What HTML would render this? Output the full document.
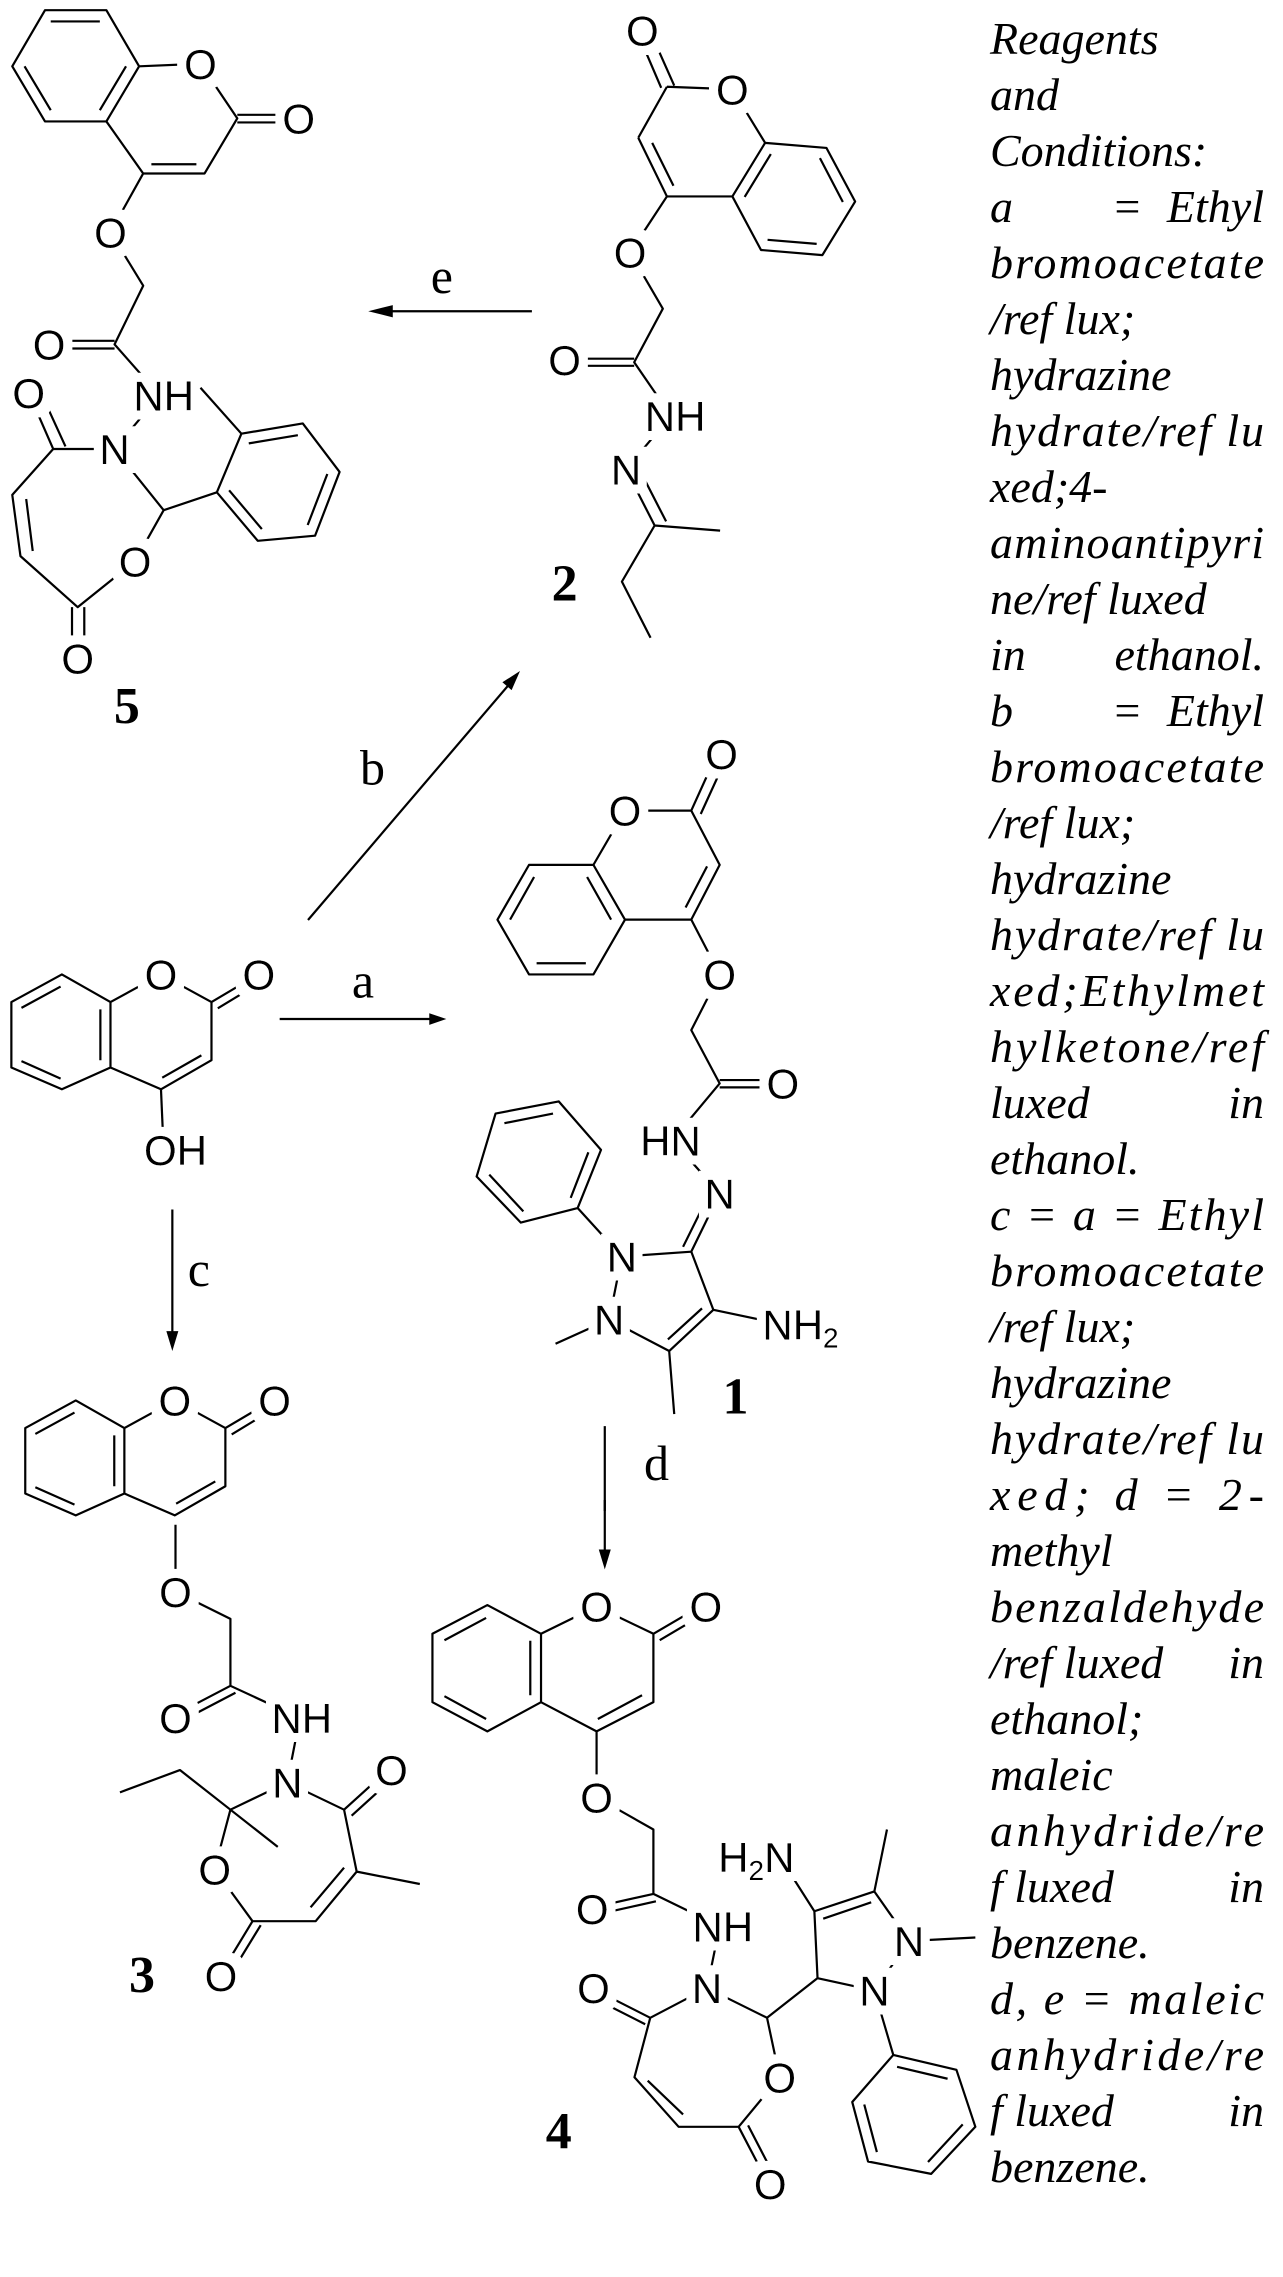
<!DOCTYPE html>
<html><head><meta charset="utf-8"><style>
html,body{margin:0;padding:0;background:#fff}
svg{display:block}
path{fill:none;stroke:#000;stroke-width:2.2;vector-effect:non-scaling-stroke;stroke-linejoin:round}
polygon{fill:#000;stroke:none}
.a{font-family:"Liberation Sans",sans-serif;font-size:42px;text-anchor:middle;fill:#000;filter:url(#halo)}
.n{font-family:"Liberation Serif",serif;font-weight:bold;font-size:52px;text-anchor:middle;fill:#000}
.l{font-family:"Liberation Serif",serif;font-size:50px;text-anchor:middle;fill:#000}
.r{font-family:"Liberation Serif",serif;font-style:italic;font-size:46px;fill:#000}
.e{text-anchor:end}
.m{text-anchor:middle}
</style></head><body>
<svg width="1283" height="2277" viewBox="0 0 1283 2277" xmlns="http://www.w3.org/2000/svg">
<defs>
<filter id="halo" x="-60%" y="-60%" width="220%" height="220%">
<feMorphology in="SourceAlpha" operator="dilate" radius="9" result="d"/>
<feFlood flood-color="#fff" result="w"/>
<feComposite in="w" in2="d" operator="in" result="bg"/>
<feMerge><feMergeNode in="bg"/><feMergeNode in="SourceGraphic"/></feMerge>
</filter>
<g id="cou">
<path d="M98,463 L175,520 L175,655 L98,700 L18,655 L18,520 Z M159,535 L159,640 M96,678 L34,642 M34,532 L96,488 M175,520 L255,463 L335,520 L335,640 L255,700 L175,655 M335,520 L405,466 M345,533 L412,480 M319,630 L257,676"/>
</g>
</defs>

<g transform="scale(0.8183,0.5102)">
<path d="M55,20 L130,20 L170,130 L130,238 L55,238 L15,130 Z M62,42 L122,42 M154,130 L122,216 M62,216 L30,130
M170,130 L245,125 L290,232 L250,340 L175,340 L130,238 M290,225 L365,225 M290,240 L365,240 M240,322 L185,322
M175,340 L135,455 L175,560 L140,675 L195,775 M140,668 L60,668 M140,683 L60,683
M195,775 L140,880 L65,880 M65,880 L35,770 M80,875 L50,770
M65,880 L15,970 L25,1090 L95,1190 L165,1100 L200,1000 L140,880 M32,978 L40,1080
M88,1190 L88,1290 M103,1190 L103,1290 M200,1000 L265,965
M265,965 L295,850 L370,830 L415,925 L385,1050 L315,1060 Z M304,869 L364,853 M400,929 L376,1029 M320,1037 L280,961 M295,850 L245,760"/>
<path d="M780,270 L815,170 M808,172 L778,60 M824,168 L794,60 M815,170 L895,175 L935,280
M935,280 L1010,290 L1045,395 L1005,500 L930,490 L895,385 Z M1002,310 L1030,396 M998,478 L938,470 M910,386 L942,302
M780,270 L815,385 L895,385 M797,280 L823,364
M815,385 L770,495 L810,605 L775,710 L820,815 M775,703 L690,703 M775,717 L690,717
M820,815 L765,920 L800,1030 L880,1040 M800,1030 L760,1140 L795,1250 M782,922 L814,1022
M650,610 L470,610"/>
<polygon points="450,610 480,598 480,622"/>
<text class="a" dy=".36em" transform="translate(245 125) scale(1.222 1.96)">O</text>
<text class="a" dy=".36em" transform="translate(365 232) scale(1.222 1.96)">O</text>
<text class="a" dy=".36em" transform="translate(135 455) scale(1.222 1.96)">O</text>
<text class="a" dy=".36em" transform="translate(60 675) scale(1.222 1.96)">O</text>
<text class="a" dy=".36em" transform="translate(200 775) scale(1.222 1.96)">NH</text>
<text class="a" dy=".36em" transform="translate(140 880) scale(1.222 1.96)">N</text>
<text class="a" dy=".36em" transform="translate(35 770) scale(1.222 1.96)">O</text>
<text class="a" dy=".36em" transform="translate(165 1100) scale(1.222 1.96)">O</text>
<text class="a" dy=".36em" transform="translate(95 1290) scale(1.222 1.96)">O</text>
<text class="n" dy=".36em" transform="translate(155 1380) scale(1.222 1.96)">5</text>
<text class="a" dy=".36em" transform="translate(785 60) scale(1.222 1.96)">O</text>
<text class="a" dy=".36em" transform="translate(895 175) scale(1.222 1.96)">O</text>
<text class="a" dy=".36em" transform="translate(770 495) scale(1.222 1.96)">O</text>
<text class="a" dy=".36em" transform="translate(690 705) scale(1.222 1.96)">O</text>
<text class="a" dy=".36em" transform="translate(825 815) scale(1.222 1.96)">NH</text>
<text class="a" dy=".36em" transform="translate(765 920) scale(1.222 1.96)">N</text>
<text class="n" dy=".36em" transform="translate(690 1140) scale(1.222 1.96)">2</text>
<text class="l" dy=".3em" transform="translate(540 545) scale(1.222 1.96)">e</text>
</g>

<path d="M308,920 L512,681"/>
<polygon points="520,671 511.6,690.1 502.4,682.3"/>

<g transform="translate(0,750) scale(0.6313,0.4847)">
<use href="#cou"/>
<path d="M255,700 L258,790"/>
<use href="#cou" transform="translate(22,879)"/>
<path d="M443,555 L685,555 M273,948 L273,1205 M958,1395 L958,1570"/>
<polygon points="707,555 680,543 680,567"/>
<polygon points="273,1240 263.5,1199 282.5,1199"/>
<path d="M940,237 L990,350 L940,463 L838,463 L788,350 L838,237 Z M930,262 L968,350 M928,440 L850,440 M808,350 L846,262
M940,237 L990,125 L1095,125 L1140,237 L1095,350 L990,350 M1095,125 L1135,10 M1110,132 L1150,18 M1120,240 L1086,325
M1095,350 L1140,463 L1095,578 L1140,688 L1065,805 L1140,915 L1095,1035 M1140,681 L1240,681 M1140,696 L1240,696 M1125,912 L1082,1025
M985,1045 L1095,1035 L1130,1155 L1060,1240 L965,1175 Z M1112,1152 L1058,1216
M1130,1155 L1240,1185 M965,1175 L880,1225 M1060,1240 L1068,1370 M985,1045 L915,945
M915,945 L825,975 L755,880 L785,750 L885,725 L952,825 Z M829,952 L775,876 M799,770 L876,750 M932,830 L904,924"/>
<text class="a" dy=".36em" transform="translate(255 463) scale(1.584 2.063)">O</text>
<text class="a" dy=".36em" transform="translate(410 463) scale(1.584 2.063)">O</text>
<text class="a" dy=".36em" transform="translate(278 825) scale(1.584 2.063)">OH</text>
<text class="a" dy=".36em" transform="translate(277 1342) scale(1.584 2.063)">O</text>
<text class="a" dy=".36em" transform="translate(435 1342) scale(1.584 2.063)">O</text>
<text class="a" dy=".36em" transform="translate(990 125) scale(1.584 2.063)">O</text>
<text class="a" dy=".36em" transform="translate(1143 8) scale(1.584 2.063)">O</text>
<text class="a" dy=".36em" transform="translate(1140 463) scale(1.584 2.063)">O</text>
<text class="a" dy=".36em" transform="translate(1240 688) scale(1.584 2.063)">O</text>
<text class="a" dy=".36em" transform="translate(1062 805) scale(1.584 2.063)">HN</text>
<text class="a" dy=".36em" transform="translate(1140 915) scale(1.584 2.063)">N</text>
<text class="a" dy=".36em" transform="translate(985 1045) scale(1.584 2.063)">N</text>
<text class="a" dy=".36em" transform="translate(965 1175) scale(1.584 2.063)">N</text>
<text class="a" dy=".36em" transform="translate(1268 1185) scale(1.584 2.063)">NH<tspan font-size="28" dy="8">2</tspan></text>
<text class="n" dy=".36em" transform="translate(1165 1330) scale(1.584 2.063)">1</text>
<text class="l" dy=".3em" transform="translate(575 480) scale(1.584 2.063)">a</text>
<text class="l" dy=".3em" transform="translate(590 40) scale(1.584 2.063)">b</text>
<text class="l" dy=".3em" transform="translate(315 1075) scale(1.584 2.063)">c</text>
<text class="l" dy=".3em" transform="translate(1040 1475) scale(1.584 2.063)">d</text>
</g>

<g transform="translate(0,1500) scale(0.6313,0.4955)">
<path d="M958,0 L958,105"/>
<polygon points="958,140 948.5,100 967.5,100"/>
<path d="M278,50 L278,185 L365,240 L365,375 L475,440 M365,375 L290,425 M373,389 L298,439
M475,440 L455,570 L365,625 L285,545 L190,590 M365,625 L440,700 M365,625 L340,745 L400,850 L500,850 L565,750 L545,625 L455,570
M400,850 L350,955 M413,858 L364,960 M492,822 L545,742 M565,750 L665,775 M545,625 L610,550 M557,637 L622,562"/>
<path d="M772,212 L857,270 L857,408 L772,467 L685,408 L685,270 Z M770,238 L704,283 M840,284 L840,394 M770,442 L704,396
M857,270 L945,215 L1035,270 L1035,408 L945,467 L857,408 M1035,270 L1110,214 M1045,283 L1118,228 M1017,394 L947,442
M945,467 L945,600 L1035,665 L1035,795 L1140,860 L1120,985 L1030,1045 L1005,1165 L1075,1265 L1170,1265 L1235,1165 L1215,1045 L1120,985
M1035,795 L940,822 M1039,810 L944,837 M1030,1045 L945,990 M1022,1058 L937,1003 M1026,1172 L1082,1240
M1170,1265 L1215,1375 M1185,1262 L1228,1368
M1215,1045 L1295,965 L1290,830 L1385,790 L1440,890 L1385,990 L1295,965 M1304,845 L1380,812
M1290,830 L1250,750 M1385,790 L1405,665 M1440,890 L1545,883 M1385,990 L1415,1120
M1415,1120 L1515,1150 L1545,1265 L1475,1360 L1375,1335 L1350,1215 Z M1421,1144 L1501,1168 M1525,1260 L1470,1336 M1389,1316 L1369,1220"/>
<text class="a" dy=".36em" transform="translate(278 185) scale(1.584 2.018)">O</text>
<text class="a" dy=".36em" transform="translate(278 440) scale(1.584 2.018)">O</text>
<text class="a" dy=".36em" transform="translate(478 440) scale(1.584 2.018)">NH</text>
<text class="a" dy=".36em" transform="translate(455 570) scale(1.584 2.018)">N</text>
<text class="a" dy=".36em" transform="translate(340 745) scale(1.584 2.018)">O</text>
<text class="a" dy=".36em" transform="translate(350 960) scale(1.584 2.018)">O</text>
<text class="a" dy=".36em" transform="translate(620 545) scale(1.584 2.018)">O</text>
<text class="n" dy=".36em" transform="translate(225 955) scale(1.584 2.018)">3</text>
<text class="a" dy=".36em" transform="translate(945 215) scale(1.584 2.018)">O</text>
<text class="a" dy=".36em" transform="translate(1118 215) scale(1.584 2.018)">O</text>
<text class="a" dy=".36em" transform="translate(945 600) scale(1.584 2.018)">O</text>
<text class="a" dy=".36em" transform="translate(938 825) scale(1.584 2.018)">O</text>
<text class="a" dy=".36em" transform="translate(1145 860) scale(1.584 2.018)">NH</text>
<text class="a" dy=".36em" transform="translate(1120 985) scale(1.584 2.018)">N</text>
<text class="a" dy=".36em" transform="translate(940 985) scale(1.584 2.018)">O</text>
<text class="a" dy=".36em" transform="translate(1235 1165) scale(1.584 2.018)">O</text>
<text class="a" dy=".36em" transform="translate(1220 1380) scale(1.584 2.018)">O</text>
<text class="a" dy=".36em" transform="translate(1198 720) scale(1.584 2.018)">H<tspan font-size="28" dy="8">2</tspan><tspan dy="-8">N</tspan></text>
<text class="a" dy=".36em" transform="translate(1440 890) scale(1.584 2.018)">N</text>
<text class="a" dy=".36em" transform="translate(1385 990) scale(1.584 2.018)">N</text>
<text class="n" dy=".36em" transform="translate(885 1270) scale(1.584 2.018)">4</text>
</g>

<g class="r">
<text x="990" y="54">Reagents</text>
<text x="990" y="110">and</text>
<text x="990" y="166">Conditions:</text>
<text x="990" y="222">a</text><text x="1127" y="222" class="m">=</text><text x="1264" y="222" class="e">Ethyl</text>
<text x="990" y="278" textLength="274" lengthAdjust="spacing">bromoacetate</text>
<text x="990" y="334">/ref lux;</text>
<text x="990" y="390">hydrazine</text>
<text x="990" y="446" textLength="274" lengthAdjust="spacing">hydrate/ref lu</text>
<text x="990" y="502">xed;4-</text>
<text x="990" y="558" textLength="274" lengthAdjust="spacing">aminoantipyri</text>
<text x="990" y="614">ne/ref luxed</text>
<text x="990" y="670">in</text><text x="1264" y="670" class="e">ethanol.</text>
<text x="990" y="726">b</text><text x="1127" y="726" class="m">=</text><text x="1264" y="726" class="e">Ethyl</text>
<text x="990" y="782" textLength="274" lengthAdjust="spacing">bromoacetate</text>
<text x="990" y="838">/ref lux;</text>
<text x="990" y="894">hydrazine</text>
<text x="990" y="950" textLength="274" lengthAdjust="spacing">hydrate/ref lu</text>
<text x="990" y="1006" textLength="274" lengthAdjust="spacing">xed;Ethylmet</text>
<text x="990" y="1062" textLength="274" lengthAdjust="spacing">hylketone/ref</text>
<text x="990" y="1118">luxed</text><text x="1264" y="1118" class="e">in</text>
<text x="990" y="1174">ethanol.</text>
<text x="990" y="1230" textLength="274" lengthAdjust="spacing">c = a = Ethyl</text>
<text x="990" y="1286" textLength="274" lengthAdjust="spacing">bromoacetate</text>
<text x="990" y="1342">/ref lux;</text>
<text x="990" y="1398">hydrazine</text>
<text x="990" y="1454" textLength="274" lengthAdjust="spacing">hydrate/ref lu</text>
<text x="990" y="1510" textLength="274" lengthAdjust="spacing">xed; d = 2-</text>
<text x="990" y="1566">methyl</text>
<text x="990" y="1622" textLength="274" lengthAdjust="spacing">benzaldehyde</text>
<text x="990" y="1678">/ref luxed</text><text x="1264" y="1678" class="e">in</text>
<text x="990" y="1734">ethanol;</text>
<text x="990" y="1790">maleic</text>
<text x="990" y="1846" textLength="274" lengthAdjust="spacing">anhydride/re</text>
<text x="990" y="1902">f luxed</text><text x="1264" y="1902" class="e">in</text>
<text x="990" y="1958">benzene.</text>
<text x="990" y="2014" textLength="274" lengthAdjust="spacing">d, e = maleic</text>
<text x="990" y="2070" textLength="274" lengthAdjust="spacing">anhydride/re</text>
<text x="990" y="2126">f luxed</text><text x="1264" y="2126" class="e">in</text>
<text x="990" y="2182">benzene.</text>
</g>
</svg>
</body></html>
